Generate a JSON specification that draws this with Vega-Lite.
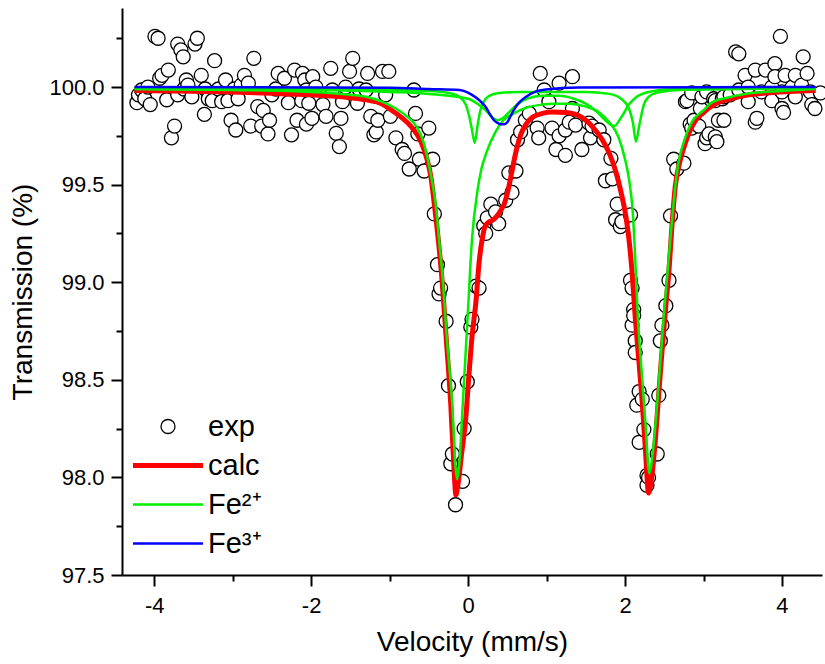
{
  "$schema": "https://vega.github.io/schema/vega-lite/v6.json",
  "width": 700,
  "height": 567,
  "autosize": {"type": "none"},
  "padding": {"left": 122, "top": 8, "right": 3, "bottom": 89},
  "background": "white",
  "config": {
    "view": {"stroke": null},
    "font": "Liberation Sans",
    "axis": {
      "grid": false,
      "domainColor": "black",
      "domainWidth": 2,
      "tickColor": "black",
      "tickWidth": 2,
      "labelColor": "black",
      "titleColor": "black",
      "labelFont": "Liberation Sans",
      "titleFont": "Liberation Sans",
      "labelFontSize": 22,
      "titleFontSize": 28,
      "titleFontWeight": "normal",
      "labelFlush": false,
      "labelOverlap": false
    }
  },
  "datasets": {
    "pts": [
      {"v":-4.22,"t":99.92},{"v":-4.2,"t":99.96},{"v":-4.16,"t":99.985},{"v":-4.12,"t":99.94},{"v":-4.08,"t":100.0},{"v":-4.05,"t":99.91},
      {"v":-3.99,"t":100.26},{"v":-3.95,"t":100.25},{"v":-3.93,"t":100.045},{"v":-3.9,"t":100.06},{"v":-3.84,"t":99.935},{"v":-3.82,"t":100.087},
      {"v":-3.78,"t":99.74},{"v":-3.74,"t":99.8},{"v":-3.7,"t":100.22},{"v":-3.7,"t":99.96},{"v":-3.66,"t":100.19},{"v":-3.63,"t":100.155},{"v":-3.62,"t":99.99},
      {"v":-3.59,"t":100.036},{"v":-3.57,"t":100.01},{"v":-3.52,"t":99.95},{"v":-3.48,"t":100.22},{"v":-3.45,"t":100.25},{"v":-3.4,"t":100.06},
      {"v":-3.36,"t":99.86},{"v":-3.35,"t":99.99},{"v":-3.31,"t":99.94},{"v":-3.26,"t":99.93},{"v":-3.23,"t":100.135},{"v":-3.18,"t":99.99},{"v":-3.14,"t":99.925},
      {"v":-3.09,"t":100.036},{"v":-3.06,"t":99.93},{"v":-3.02,"t":99.83},{"v":-2.98,"t":99.99},{"v":-2.96,"t":99.78},{"v":-2.93,"t":99.94},
      {"v":-2.89,"t":100.01},{"v":-2.85,"t":100.06},{"v":-2.8,"t":100.02},{"v":-2.77,"t":99.8},{"v":-2.73,"t":100.147},{"v":-2.68,"t":99.9},
      {"v":-2.63,"t":99.8},{"v":-2.61,"t":99.88},{"v":-2.55,"t":99.76},{"v":-2.53,"t":99.83},{"v":-2.5,"t":99.96},{"v":-2.45,"t":99.99},
      {"v":-2.42,"t":100.07},{"v":-2.34,"t":100.045},{"v":-2.29,"t":99.92},{"v":-2.25,"t":99.755},{"v":-2.21,"t":100.087},{"v":-2.18,"t":99.83},
      {"v":-2.12,"t":99.93},{"v":-2.11,"t":100.07},{"v":-2.08,"t":100.036},{"v":-2.06,"t":99.81},{"v":-2.06,"t":99.985},{"v":-2.03,"t":99.917},
      {"v":-1.99,"t":99.84},{"v":-1.98,"t":100.053},{"v":-1.94,"t":100.0},{"v":-1.85,"t":99.91},{"v":-1.81,"t":99.85},{"v":-1.75,"t":100.096},
      {"v":-1.73,"t":99.985},{"v":-1.68,"t":99.763},{"v":-1.64,"t":99.695},{"v":-1.62,"t":99.84},{"v":-1.6,"t":99.925},{"v":-1.56,"t":100.0},
      {"v":-1.51,"t":100.08},{"v":-1.47,"t":100.147},{"v":-1.41,"t":99.917},{"v":-1.39,"t":99.99},{"v":-1.3,"t":99.985},{"v":-1.28,"t":100.07},
      {"v":-1.24,"t":99.85},{"v":-1.2,"t":99.755},{"v":-1.17,"t":99.77},{"v":-1.15,"t":99.83},{"v":-1.09,"t":100.08},{"v":-1.05,"t":99.96},
      {"v":-1.01,"t":100.08},{"v":-0.99,"t":99.85},{"v":-0.92,"t":99.74},{"v":-0.84,"t":99.68},{"v":-0.81,"t":99.66},{"v":-0.75,"t":99.58},
      {"v":-0.69,"t":99.985},{"v":-0.67,"t":99.865},{"v":-0.64,"t":99.76},{"v":-0.62,"t":99.63},{"v":-0.56,"t":99.57},{"v":-0.5,"t":99.79},
      {"v":-0.45,"t":99.63},{"v":-0.43,"t":99.35},{"v":-0.39,"t":99.09},{"v":-0.37,"t":98.94},{"v":-0.35,"t":98.97},{"v":-0.28,"t":98.8},
      {"v":-0.25,"t":98.47},{"v":-0.22,"t":98.07},{"v":-0.2,"t":98.12},{"v":-0.16,"t":97.86},{"v":-0.07,"t":97.98},{"v":-0.05,"t":98.25},
      {"v":-0.01,"t":98.49},{"v":0.035,"t":98.77},{"v":0.05,"t":98.81},{"v":0.1,"t":98.98},{"v":0.14,"t":98.97},
      {"v":0.2,"t":99.29},{"v":0.225,"t":99.25},{"v":0.245,"t":99.33},{"v":0.29,"t":99.4},{"v":0.35,"t":99.36},{"v":0.39,"t":99.3},
      {"v":0.48,"t":99.42},{"v":0.52,"t":99.56},{"v":0.56,"t":99.46},{"v":0.61,"t":99.57},{"v":0.63,"t":99.73},{"v":0.67,"t":99.77},
      {"v":0.73,"t":99.83},{"v":0.78,"t":99.865},{"v":0.88,"t":99.79},{"v":0.9,"t":99.74},{"v":0.92,"t":100.07},{"v":0.97,"t":99.985},
      {"v":1.03,"t":99.925},{"v":1.07,"t":99.79},{"v":1.12,"t":99.68},{"v":1.16,"t":100.02},{"v":1.16,"t":99.75},{"v":1.24,"t":99.78},
      {"v":1.24,"t":99.65},{"v":1.29,"t":99.82},{"v":1.33,"t":100.053},{"v":1.33,"t":99.89},{"v":1.37,"t":99.805},{"v":1.45,"t":99.68},
      {"v":1.54,"t":99.815},{"v":1.56,"t":99.74},{"v":1.58,"t":99.8},{"v":1.67,"t":99.78},{"v":1.73,"t":99.73},{"v":1.75,"t":99.52},
      {"v":1.82,"t":99.635},{"v":1.84,"t":99.53},{"v":1.88,"t":99.32},{"v":1.9,"t":99.4},{"v":1.94,"t":99.285},{"v":1.96,"t":99.31},
      {"v":2.07,"t":99.345},{"v":2.07,"t":99.01},{"v":2.09,"t":98.97},{"v":2.09,"t":98.78},{"v":2.11,"t":98.86},{"v":2.11,"t":98.83},
      {"v":2.13,"t":98.7},{"v":2.13,"t":98.64},{"v":2.15,"t":98.37},{"v":2.18,"t":98.44},{"v":2.18,"t":98.18},{"v":2.22,"t":98.4},
      {"v":2.24,"t":98.245},{"v":2.28,"t":98.01},{"v":2.28,"t":97.96},{"v":2.3,"t":98.0},{"v":2.41,"t":98.12},{"v":2.43,"t":98.42},
      {"v":2.45,"t":98.7},{"v":2.47,"t":98.78},{"v":2.52,"t":98.88},{"v":2.56,"t":99.01},{"v":2.58,"t":99.34},{"v":2.62,"t":99.63},
      {"v":2.66,"t":99.58},{"v":2.75,"t":99.61},{"v":2.77,"t":99.925},{"v":2.79,"t":99.93},{"v":2.83,"t":99.81},{"v":2.85,"t":99.79},
      {"v":2.85,"t":99.97},{"v":2.88,"t":99.83},{"v":2.94,"t":99.8},{"v":2.96,"t":99.89},{"v":2.98,"t":99.95},{"v":3.02,"t":99.71},
      {"v":3.04,"t":99.74},{"v":3.04,"t":99.975},{"v":3.07,"t":99.76},{"v":3.13,"t":99.94},{"v":3.15,"t":99.745},{"v":3.15,"t":99.93},
      {"v":3.17,"t":99.72},{"v":3.19,"t":99.83},{"v":3.24,"t":99.94},{"v":3.26,"t":99.83},{"v":3.26,"t":99.95},{"v":3.34,"t":99.96},
      {"v":3.41,"t":100.18},{"v":3.45,"t":100.17},{"v":3.45,"t":99.985},{"v":3.53,"t":100.06},{"v":3.57,"t":100.0},{"v":3.57,"t":99.925},
      {"v":3.66,"t":100.087},{"v":3.66,"t":99.82},{"v":3.68,"t":99.84},{"v":3.74,"t":99.975},{"v":3.79,"t":100.087},{"v":3.87,"t":100.0},
      {"v":3.87,"t":99.93},{"v":3.91,"t":100.12},{"v":3.91,"t":100.053},{"v":3.98,"t":100.26},{"v":4.0,"t":99.975},{"v":4.0,"t":99.89},
      {"v":4.02,"t":99.87},{"v":4.04,"t":100.06},{"v":4.13,"t":100.0},{"v":4.17,"t":100.06},{"v":4.17,"t":99.95},{"v":4.25,"t":100.01},
      {"v":4.27,"t":100.155},{"v":4.32,"t":100.07},{"v":4.36,"t":99.975},{"v":4.38,"t":99.91},{"v":4.42,"t":99.89},{"v":4.49,"t":99.97}
    ],
    "calc": [
      {"v":-4.25,"t":99.982,"s":"calc"},{"v":-3.5,"t":99.978,"s":"calc"},{"v":-3.0,"t":99.974,"s":"calc"},{"v":-2.5,"t":99.968,"s":"calc"},
      {"v":-2.0,"t":99.96,"s":"calc"},{"v":-1.6,"t":99.95,"s":"calc"},{"v":-1.3,"t":99.935,"s":"calc"},{"v":-1.1,"t":99.915,"s":"calc"},
      {"v":-0.97,"t":99.88,"s":"calc"},{"v":-0.85,"t":99.845,"s":"calc"},{"v":-0.71,"t":99.79,"s":"calc"},{"v":-0.6,"t":99.72,"s":"calc"},
      {"v":-0.53,"t":99.64,"s":"calc"},{"v":-0.47,"t":99.53,"s":"calc"},{"v":-0.43,"t":99.4,"s":"calc"},{"v":-0.38,"t":99.22,"s":"calc"},
      {"v":-0.34,"t":99.05,"s":"calc"},{"v":-0.28,"t":98.72,"s":"calc"},{"v":-0.22,"t":98.37,"s":"calc"},{"v":-0.18,"t":98.05,"s":"calc"},
      {"v":-0.155,"t":97.91,"s":"calc"},{"v":-0.13,"t":97.96,"s":"calc"},{"v":-0.08,"t":98.13,"s":"calc"},{"v":-0.03,"t":98.3,"s":"calc"},
      {"v":0.01,"t":98.52,"s":"calc"},{"v":0.05,"t":98.72,"s":"calc"},{"v":0.1,"t":98.9,"s":"calc"},{"v":0.14,"t":99.1,"s":"calc"},
      {"v":0.18,"t":99.22,"s":"calc"},{"v":0.22,"t":99.29,"s":"calc"},{"v":0.27,"t":99.31,"s":"calc"},{"v":0.32,"t":99.32,"s":"calc"},
      {"v":0.37,"t":99.34,"s":"calc"},{"v":0.42,"t":99.37,"s":"calc"},{"v":0.46,"t":99.4,"s":"calc"},{"v":0.52,"t":99.49,"s":"calc"},
      {"v":0.56,"t":99.57,"s":"calc"},{"v":0.6,"t":99.65,"s":"calc"},{"v":0.67,"t":99.755,"s":"calc"},{"v":0.74,"t":99.81,"s":"calc"},
      {"v":0.82,"t":99.845,"s":"calc"},{"v":0.95,"t":99.865,"s":"calc"},{"v":1.07,"t":99.872,"s":"calc"},{"v":1.25,"t":99.87,"s":"calc"},
      {"v":1.4,"t":99.855,"s":"calc"},{"v":1.5,"t":99.83,"s":"calc"},{"v":1.6,"t":99.79,"s":"calc"},{"v":1.71,"t":99.73,"s":"calc"},
      {"v":1.8,"t":99.66,"s":"calc"},{"v":1.88,"t":99.57,"s":"calc"},{"v":1.95,"t":99.46,"s":"calc"},{"v":2.01,"t":99.34,"s":"calc"},
      {"v":2.05,"t":99.22,"s":"calc"},{"v":2.09,"t":99.05,"s":"calc"},{"v":2.13,"t":98.82,"s":"calc"},{"v":2.18,"t":98.58,"s":"calc"},
      {"v":2.22,"t":98.38,"s":"calc"},{"v":2.26,"t":98.14,"s":"calc"},{"v":2.3,"t":97.92,"s":"calc"},{"v":2.34,"t":98.0,"s":"calc"},
      {"v":2.39,"t":98.21,"s":"calc"},{"v":2.43,"t":98.43,"s":"calc"},{"v":2.47,"t":98.64,"s":"calc"},{"v":2.52,"t":98.88,"s":"calc"},
      {"v":2.56,"t":99.06,"s":"calc"},{"v":2.6,"t":99.3,"s":"calc"},{"v":2.64,"t":99.49,"s":"calc"},{"v":2.7,"t":99.62,"s":"calc"},
      {"v":2.75,"t":99.69,"s":"calc"},{"v":2.82,"t":99.77,"s":"calc"},{"v":2.9,"t":99.83,"s":"calc"},{"v":3.0,"t":99.87,"s":"calc"},
      {"v":3.16,"t":99.915,"s":"calc"},{"v":3.35,"t":99.94,"s":"calc"},{"v":3.54,"t":99.958,"s":"calc"},{"v":3.8,"t":99.97,"s":"calc"},
      {"v":4.1,"t":99.977,"s":"calc"},{"v":4.43,"t":99.982,"s":"calc"}
    ],
    "fe2": [
      {"c":"C","v":-4.25,"t":99.99,"s":"Fe²⁺"},{"c":"C","v":-2.0,"t":99.985,"s":"Fe²⁺"},{"c":"C","v":-1.0,"t":99.975,"s":"Fe²⁺"},
      {"c":"C","v":-0.5,"t":99.965,"s":"Fe²⁺"},{"c":"C","v":0.0,"t":99.94,"s":"Fe²⁺"},{"c":"C","v":0.15,"t":99.905,"s":"Fe²⁺"},
      {"c":"C","v":0.25,"t":99.87,"s":"Fe²⁺"},{"c":"C","v":0.32,"t":99.84,"s":"Fe²⁺"},{"c":"C","v":0.38,"t":99.83,"s":"Fe²⁺"},
      {"c":"C","v":0.44,"t":99.84,"s":"Fe²⁺"},{"c":"C","v":0.52,"t":99.87,"s":"Fe²⁺"},{"c":"C","v":0.62,"t":99.91,"s":"Fe²⁺"},
      {"c":"C","v":0.75,"t":99.94,"s":"Fe²⁺"},{"c":"C","v":0.95,"t":99.955,"s":"Fe²⁺"},{"c":"C","v":1.16,"t":99.955,"s":"Fe²⁺"},
      {"c":"C","v":1.35,"t":99.94,"s":"Fe²⁺"},{"c":"C","v":1.5,"t":99.915,"s":"Fe²⁺"},{"c":"C","v":1.65,"t":99.87,"s":"Fe²⁺"},
      {"c":"C","v":1.75,"t":99.83,"s":"Fe²⁺"},{"c":"C","v":1.86,"t":99.8,"s":"Fe²⁺"},{"c":"C","v":1.96,"t":99.85,"s":"Fe²⁺"},
      {"c":"C","v":2.05,"t":99.91,"s":"Fe²⁺"},{"c":"C","v":2.15,"t":99.95,"s":"Fe²⁺"},{"c":"C","v":2.3,"t":99.975,"s":"Fe²⁺"},
      {"c":"C","v":2.64,"t":99.99,"s":"Fe²⁺"},{"c":"C","v":3.2,"t":99.995,"s":"Fe²⁺"},{"c":"C","v":4.43,"t":99.998,"s":"Fe²⁺"},
      {"c":"B","v":-4.25,"t":99.995,"s":"Fe²⁺"},{"c":"B","v":-2.0,"t":99.99,"s":"Fe²⁺"},{"c":"B","v":-1.0,"t":99.985,"s":"Fe²⁺"},
      {"c":"B","v":-0.5,"t":99.98,"s":"Fe²⁺"},{"c":"B","v":-0.25,"t":99.97,"s":"Fe²⁺"},{"c":"B","v":-0.11,"t":99.95,"s":"Fe²⁺"},
      {"c":"B","v":-0.03,"t":99.91,"s":"Fe²⁺"},{"c":"B","v":0.02,"t":99.84,"s":"Fe²⁺"},{"c":"B","v":0.05,"t":99.78,"s":"Fe²⁺"},
      {"c":"B","v":0.085,"t":99.715,"s":"Fe²⁺"},{"c":"B","v":0.12,"t":99.8,"s":"Fe²⁺"},{"c":"B","v":0.15,"t":99.87,"s":"Fe²⁺"},
      {"c":"B","v":0.2,"t":99.925,"s":"Fe²⁺"},{"c":"B","v":0.27,"t":99.955,"s":"Fe²⁺"},{"c":"B","v":0.39,"t":99.97,"s":"Fe²⁺"},
      {"c":"B","v":0.7,"t":99.975,"s":"Fe²⁺"},{"c":"B","v":1.1,"t":99.975,"s":"Fe²⁺"},{"c":"B","v":1.5,"t":99.975,"s":"Fe²⁺"},
      {"c":"B","v":1.8,"t":99.965,"s":"Fe²⁺"},{"c":"B","v":1.95,"t":99.94,"s":"Fe²⁺"},{"c":"B","v":2.05,"t":99.89,"s":"Fe²⁺"},
      {"c":"B","v":2.1,"t":99.82,"s":"Fe²⁺"},{"c":"B","v":2.14,"t":99.72,"s":"Fe²⁺"},{"c":"B","v":2.18,"t":99.8,"s":"Fe²⁺"},
      {"c":"B","v":2.24,"t":99.91,"s":"Fe²⁺"},{"c":"B","v":2.3,"t":99.95,"s":"Fe²⁺"},{"c":"B","v":2.4,"t":99.97,"s":"Fe²⁺"},
      {"c":"B","v":2.7,"t":99.985,"s":"Fe²⁺"},{"c":"B","v":3.5,"t":99.99,"s":"Fe²⁺"},{"c":"B","v":4.43,"t":99.995,"s":"Fe²⁺"},
      {"c":"A","v":-4.25,"t":99.99,"s":"Fe²⁺"},{"c":"A","v":-3.0,"t":99.985,"s":"Fe²⁺"},{"c":"A","v":-2.0,"t":99.975,"s":"Fe²⁺"},
      {"c":"A","v":-1.5,"t":99.96,"s":"Fe²⁺"},{"c":"A","v":-1.3,"t":99.95,"s":"Fe²⁺"},{"c":"A","v":-1.1,"t":99.925,"s":"Fe²⁺"},
      {"c":"A","v":-0.92,"t":99.89,"s":"Fe²⁺"},{"c":"A","v":-0.78,"t":99.85,"s":"Fe²⁺"},{"c":"A","v":-0.66,"t":99.8,"s":"Fe²⁺"},
      {"c":"A","v":-0.57,"t":99.72,"s":"Fe²⁺"},{"c":"A","v":-0.52,"t":99.64,"s":"Fe²⁺"},{"c":"A","v":-0.46,"t":99.52,"s":"Fe²⁺"},
      {"c":"A","v":-0.41,"t":99.39,"s":"Fe²⁺"},{"c":"A","v":-0.37,"t":99.22,"s":"Fe²⁺"},{"c":"A","v":-0.33,"t":99.05,"s":"Fe²⁺"},
      {"c":"A","v":-0.27,"t":98.71,"s":"Fe²⁺"},{"c":"A","v":-0.2,"t":98.36,"s":"Fe²⁺"},{"c":"A","v":-0.16,"t":98.05,"s":"Fe²⁺"},
      {"c":"A","v":-0.14,"t":97.99,"s":"Fe²⁺"},{"c":"A","v":-0.11,"t":98.08,"s":"Fe²⁺"},{"c":"A","v":-0.07,"t":98.36,"s":"Fe²⁺"},
      {"c":"A","v":-0.01,"t":98.79,"s":"Fe²⁺"},{"c":"A","v":0.05,"t":99.22,"s":"Fe²⁺"},{"c":"A","v":0.12,"t":99.47,"s":"Fe²⁺"},
      {"c":"A","v":0.17,"t":99.58,"s":"Fe²⁺"},{"c":"A","v":0.23,"t":99.66,"s":"Fe²⁺"},{"c":"A","v":0.35,"t":99.77,"s":"Fe²⁺"},
      {"c":"A","v":0.45,"t":99.83,"s":"Fe²⁺"},{"c":"A","v":0.56,"t":99.86,"s":"Fe²⁺"},{"c":"A","v":0.75,"t":99.895,"s":"Fe²⁺"},
      {"c":"A","v":0.94,"t":99.91,"s":"Fe²⁺"},{"c":"A","v":1.1,"t":99.915,"s":"Fe²⁺"},{"c":"A","v":1.29,"t":99.915,"s":"Fe²⁺"},
      {"c":"A","v":1.5,"t":99.9,"s":"Fe²⁺"},{"c":"A","v":1.67,"t":99.87,"s":"Fe²⁺"},{"c":"A","v":1.8,"t":99.82,"s":"Fe²⁺"},
      {"c":"A","v":1.92,"t":99.74,"s":"Fe²⁺"},{"c":"A","v":2.0,"t":99.63,"s":"Fe²⁺"},{"c":"A","v":2.05,"t":99.53,"s":"Fe²⁺"},
      {"c":"A","v":2.1,"t":99.35,"s":"Fe²⁺"},{"c":"A","v":2.13,"t":99.12,"s":"Fe²⁺"},{"c":"A","v":2.16,"t":98.85,"s":"Fe²⁺"},
      {"c":"A","v":2.21,"t":98.55,"s":"Fe²⁺"},{"c":"A","v":2.26,"t":98.28,"s":"Fe²⁺"},{"c":"A","v":2.31,"t":98.02,"s":"Fe²⁺"},
      {"c":"A","v":2.34,"t":98.08,"s":"Fe²⁺"},{"c":"A","v":2.41,"t":98.38,"s":"Fe²⁺"},{"c":"A","v":2.49,"t":98.81,"s":"Fe²⁺"},
      {"c":"A","v":2.58,"t":99.23,"s":"Fe²⁺"},{"c":"A","v":2.63,"t":99.45,"s":"Fe²⁺"},{"c":"A","v":2.68,"t":99.61,"s":"Fe²⁺"},
      {"c":"A","v":2.75,"t":99.72,"s":"Fe²⁺"},{"c":"A","v":2.85,"t":99.82,"s":"Fe²⁺"},{"c":"A","v":3.0,"t":99.88,"s":"Fe²⁺"},
      {"c":"A","v":3.1,"t":99.92,"s":"Fe²⁺"},{"c":"A","v":3.3,"t":99.945,"s":"Fe²⁺"},{"c":"A","v":3.54,"t":99.965,"s":"Fe²⁺"},
      {"c":"A","v":4.0,"t":99.98,"s":"Fe²⁺"},{"c":"A","v":4.43,"t":99.99,"s":"Fe²⁺"}
    ],
    "fe3": [
      {"v":-4.25,"t":100.0,"s":"Fe³⁺"},{"v":-1.0,"t":99.997,"s":"Fe³⁺"},{"v":-0.5,"t":99.99,"s":"Fe³⁺"},{"v":-0.11,"t":99.985,"s":"Fe³⁺"},
      {"v":0.05,"t":99.96,"s":"Fe³⁺"},{"v":0.15,"t":99.93,"s":"Fe³⁺"},{"v":0.22,"t":99.9,"s":"Fe³⁺"},{"v":0.28,"t":99.86,"s":"Fe³⁺"},
      {"v":0.33,"t":99.83,"s":"Fe³⁺"},{"v":0.38,"t":99.815,"s":"Fe³⁺"},{"v":0.42,"t":99.81,"s":"Fe³⁺"},{"v":0.46,"t":99.81,"s":"Fe³⁺"},
      {"v":0.5,"t":99.82,"s":"Fe³⁺"},{"v":0.54,"t":99.85,"s":"Fe³⁺"},{"v":0.58,"t":99.88,"s":"Fe³⁺"},{"v":0.65,"t":99.92,"s":"Fe³⁺"},
      {"v":0.74,"t":99.95,"s":"Fe³⁺"},{"v":0.85,"t":99.975,"s":"Fe³⁺"},{"v":0.99,"t":99.988,"s":"Fe³⁺"},{"v":1.41,"t":99.998,"s":"Fe³⁺"},
      {"v":4.43,"t":100.0,"s":"Fe³⁺"}
    ]
  },
  "resolve": {"axis": {"x": "independent", "y": "independent"}},
  "layer": [
    {
      "data": {"name": "pts"},
      "mark": {"type": "point", "shape": "circle", "size": 196, "filled": false, "fill": "white", "fillOpacity": 1, "stroke": "black", "strokeWidth": 1.3, "opacity": 1},
      "encoding": {
        "x": {"field": "v", "type": "quantitative",
              "scale": {"domain": [-4.41, 4.51], "nice": false, "zero": false},
              "axis": {"values": [-4, -2, 0, 2, 4], "tickSize": 11, "labelPadding": 9, "labelExpr": "'' + datum.value", "title": "Velocity (mm/s)", "titlePadding": 12, "orient": "bottom"}},
        "y": {"field": "t", "type": "quantitative",
              "scale": {"domain": [97.5, 100.405], "nice": false, "zero": false},
              "axis": {"values": [97.5, 98, 98.5, 99, 99.5, 100], "format": ".1f", "tickSize": 11, "labelPadding": 7, "title": "Transmission (%)", "titlePadding": 11, "orient": "left"}}
      }
    },
    {
      "data": {"name": "calc"},
      "mark": {"type": "line", "strokeWidth": 5, "interpolate": "monotone"},
      "encoding": {
        "x": {"field": "v", "type": "quantitative", "axis": null},
        "y": {"field": "t", "type": "quantitative", "axis": null},
        "color": {"field": "s", "type": "nominal",
          "scale": {"domain": ["exp", "calc", "Fe²⁺", "Fe³⁺"], "range": ["black", "#ff0000", "#00ee00", "#0000ff"]},
          "legend": {
            "orient": "bottom-left", "offset": 16, "title": null, "padding": 0,
            "labelFont": "Liberation Sans", "labelFontSize": 29, "labelColor": "black",
            "labelOffset": 41, "rowPadding": 9, "symbolSize": 196,
            "encode": {"symbols": {"update": {
              "shape": {"signal": "datum.value === 'exp' ? 'circle' : 'stroke'"},
              "size": {"signal": "datum.value === 'exp' ? 196 : 4900"},
              "strokeWidth": {"signal": "datum.value === 'calc' ? 5 : (datum.value === 'exp' ? 1.3 : 2.5)"},
              "fill": {"signal": "datum.value === 'exp' ? 'white' : 'transparent'"},
              "stroke": {"scale": "color", "field": "value"},
              "opacity": {"value": 1},
              "x": {"value": 30}
            }}}
          }}
      }
    },
    {
      "data": {"name": "fe2"},
      "mark": {"type": "line", "strokeWidth": 2.5, "interpolate": "monotone"},
      "encoding": {
        "x": {"field": "v", "type": "quantitative", "axis": null},
        "y": {"field": "t", "type": "quantitative", "axis": null},
        "color": {"field": "s", "type": "nominal"},
        "detail": {"field": "c", "type": "nominal"}
      }
    },
    {
      "data": {"name": "fe3"},
      "mark": {"type": "line", "strokeWidth": 2.5, "interpolate": "monotone"},
      "encoding": {
        "x": {"field": "v", "type": "quantitative",
              "axis": {"values": [-3, -1, 1, 3], "labels": false, "tickSize": 6, "domain": false, "title": null, "orient": "bottom"}},
        "y": {"field": "t", "type": "quantitative",
              "axis": {"values": [97.75, 98.25, 98.75, 99.25, 99.75, 100.25], "labels": false, "tickSize": 6, "domain": false, "title": null, "orient": "left"}},
        "color": {"field": "s", "type": "nominal"}
      }
    }
  ]
}
